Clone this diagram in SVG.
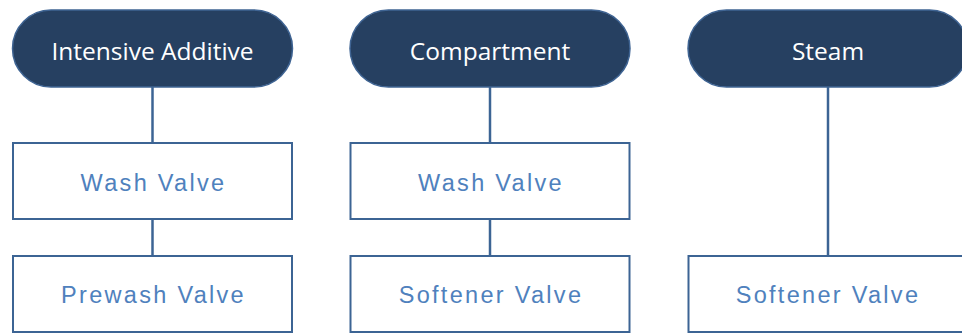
<svg xmlns="http://www.w3.org/2000/svg" width="962" height="334" viewBox="0 0 962 334">
<style>
.pill{fill:#264061;stroke:#3f6493;stroke-width:1.5}
.box{fill:#ffffff;stroke:#3c6494;stroke-width:2}
.pt{font-family:"Open Sans","Noto Sans",sans-serif;font-size:24.5px;fill:#ffffff;text-anchor:middle}
.bt{font-family:"Liberation Sans",Arial,sans-serif;font-size:23.5px;fill:#4f81bd;text-anchor:middle;letter-spacing:2.3px}
.ln{stroke:#3c6494;stroke-width:2.5;fill:none}
</style>
<rect width="962" height="334" fill="#ffffff"/>
<g id="connectors">
<line class="ln" x1="152.5" y1="87" x2="152.5" y2="143"/>
<line class="ln" x1="152.5" y1="219" x2="152.5" y2="256"/>
<line class="ln" x1="490" y1="87" x2="490" y2="143"/>
<line class="ln" x1="490" y1="219" x2="490" y2="256"/>
<line class="ln" x1="828" y1="87" x2="828" y2="256"/>
</g>
<g id="intensive-additive"><rect class="pill" x="12.5" y="10" width="280" height="77" rx="38.5"/><text class="pt" x="152.5" y="60">Intensive Additive</text></g>
<g id="compartment"><rect class="pill" x="350" y="10" width="280" height="77" rx="38.5"/><text class="pt" x="490" y="60">Compartment</text></g>
<g id="steam"><rect class="pill" x="688" y="10" width="280" height="77" rx="38.5"/><text class="pt" x="828" y="60">Steam</text></g>
<g id="wash-valve-1"><rect class="box" x="13" y="143" width="279" height="76"/><text class="bt" x="153.5" y="190.5">Wash Valve</text></g>
<g id="prewash-valve"><rect class="box" x="13" y="256" width="279" height="76"/><text class="bt" x="153.5" y="302.5">Prewash Valve</text></g>
<g id="wash-valve-2"><rect class="box" x="350.5" y="143" width="279" height="76"/><text class="bt" x="491" y="190.5">Wash Valve</text></g>
<g id="softener-valve-1"><rect class="box" x="350.5" y="256" width="279" height="76"/><text class="bt" x="491" y="302.5">Softener Valve</text></g>
<g id="softener-valve-2"><rect class="box" x="688.5" y="256" width="279" height="76"/><text class="bt" x="828" y="302.5">Softener Valve</text></g>
</svg>
